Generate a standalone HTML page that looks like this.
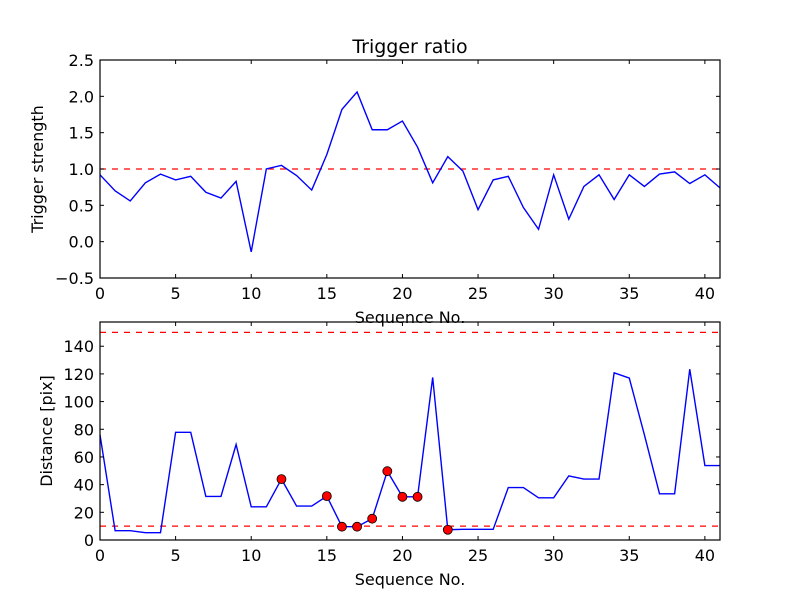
<!DOCTYPE html>
<html><head><meta charset="utf-8"><style>
html,body{margin:0;padding:0;background:#fff}
svg{display:block}
text{font-family:"DejaVu Sans","Liberation Sans",sans-serif;fill:#000}
</style></head><body>
<svg id="chart" width="800" height="600" viewBox="0 0 800 600" xmlns="http://www.w3.org/2000/svg">
<rect width="800" height="600" fill="#fff"/>
</svg>
<script>
const seqNo = Array.from({length:42},(_,i)=>i);
const triggerStrength = [0.92,0.70,0.56,0.81,0.93,0.85,0.90,0.68,0.60,0.83,-0.14,1.00,1.05,0.91,0.71,1.20,1.82,2.06,1.54,1.54,1.66,1.30,0.81,1.17,0.97,0.44,0.85,0.90,0.47,0.17,0.92,0.31,0.76,0.92,0.58,0.92,0.76,0.93,0.96,0.80,0.92,0.74];
const distance = [76,6.7,6.7,5.3,5.3,77.8,77.8,31.5,31.5,69,24,24,44,24.5,24.5,31.7,9.6,9.6,15.4,49.7,31.2,31.2,117.4,7.4,7.7,7.7,7.7,37.9,37.9,30.5,30.5,46.3,44,44,120.8,117,76,33.4,33.4,123.4,53.8,53.8];
const flagged = [12,15,16,17,18,19,20,21,23];
const xTicks = [0,5,10,15,20,25,30,35,40];
const topYTicks = ["2.5","2.0","1.5","1.0","0.5","0.0","\u22120.5"];
const topYVals = [2.5,2.0,1.5,1.0,0.5,0.0,-0.5];
const botYTicks = [0,20,40,60,80,100,120,140];
const triggerThreshold = [1.0];
const distThresholds = [10,150];

const svgEl = document.getElementById('chart');
const NS = 'http://www.w3.org/2000/svg';
function mk(tag, attrs, parent){const e=document.createElementNS(NS,tag);for(const k in attrs)e.setAttribute(k,attrs[k]);(parent||svgEl).appendChild(e);return e;}

const L=100,R=720;
const xs = v => L + (v-0)/(41-0)*(R-L);
const topPanel = {t:60,b:278,min:-0.5,max:2.5};
const botPanel = {t:322,b:540,min:0,max:157.5};
const yTop = v => topPanel.b - (v-topPanel.min)/(topPanel.max-topPanel.min)*(topPanel.b-topPanel.t);
const yBot = v => botPanel.b - (v-botPanel.min)/(botPanel.max-botPanel.min)*(botPanel.b-botPanel.t);

function axes(p, ys, yvals, ylabels, name){
  const g = mk('g',{});
  
  
  xTicks.forEach(v=>{
    const x=xs(v);
    mk('line',{x1:x,x2:x,y1:p.b,y2:p.b-4,stroke:'#000','stroke-width':1},g);
    mk('line',{x1:x,x2:x,y1:p.t,y2:p.t+4,stroke:'#000','stroke-width':1},g);
    const t=mk('text',{x:x,y:p.b+21,'text-anchor':'middle','font-size':16},g);
    t.textContent=v;
    
    
  });
  yvals.forEach((v,i)=>{
    const y=ys(v);
    mk('line',{x1:L,x2:L+4,y1:y,y2:y,stroke:'#000','stroke-width':1},g);
    mk('line',{x1:R,x2:R-4,y1:y,y2:y,stroke:'#000','stroke-width':1},g);
    const t=mk('text',{x:L-6,y:y+6,'text-anchor':'end','font-size':16},g);
    t.textContent=ylabels[i];
    
    
  });
}
function frame(p,name){
  const r=mk('rect',{x:L,y:p.t,width:R-L,height:p.b-p.t,fill:'none',stroke:'#000','stroke-width':1.2});
  
  
}
function line(vals, ys, name){
  const d = vals.map((v,i)=>(i?'L':'M')+xs(seqNo[i]).toFixed(2)+','+ys(v).toFixed(2)).join(' ');
  const p=mk('path',{d:d,fill:'none',stroke:'#0000ff','stroke-width':1.4,'stroke-linejoin':'miter'});
  
  
}
function hline(v, ys, name){
  const l=mk('line',{x1:L,x2:R,y1:ys(v),y2:ys(v),stroke:'#ff0000','stroke-width':1.2,'stroke-dasharray':'6,6'});
  
  
}

triggerThreshold.forEach(v=>hline(v,yTop,'trigger-threshold-line'));
line(triggerStrength,yTop,'trigger-strength-line');
axes(topPanel,yTop,topYVals,topYTicks,'top');
frame(topPanel,'top-plot');

distThresholds.forEach(v=>hline(v,yBot,'distance-threshold-line'));
line(distance,yBot,'distance-line');
flagged.forEach(i=>{
  const c=mk('circle',{cx:xs(seqNo[i]),cy:yBot(distance[i]),r:4.5,fill:'#ff0000',stroke:'#000','stroke-width':0.8});
  
  
});
axes(botPanel,yBot,botYTicks,botYTicks.map(String),'bottom');
frame(botPanel,'bottom-plot');

function label(txt,x,y,size,name,rot){
  const t=mk('text',{x:x,y:y,'text-anchor':'middle','font-size':size});
  if(rot) t.setAttribute('transform','rotate(-90 '+x+' '+y+')');
  t.textContent=txt;
  
  
}
label('Trigger ratio',410,53,19,'chart-title');
label('Sequence No.',410,323,16,'top-x-axis-title');
label('Sequence No.',410,585,16,'bottom-x-axis-title');
label('Trigger strength',43,169,16,'top-y-axis-title',true);
label('Distance [pix]',52,431,16,'bottom-y-axis-title',true);
</script>
</body></html>
